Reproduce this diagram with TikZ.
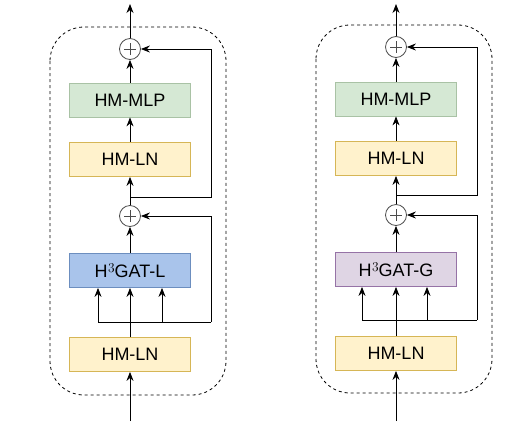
\documentclass[tikz,border=0pt]{standalone}
\usepackage{fontspec}
\setmainfont{Liberation Sans}
\newfontfamily\lmfont{Latin Modern Roman}
\usepackage{tikz}
\usetikzlibrary{arrows.meta, positioning}

\definecolor{mlpfill}{HTML}{D5E8D4}
\definecolor{mlpdraw}{HTML}{A9C2A5}
\definecolor{lnfill}{HTML}{FFF2CC}
\definecolor{lndraw}{HTML}{D6B656}
\definecolor{gatlfill}{HTML}{A9C4EB}
\definecolor{gatldraw}{HTML}{6C8EBF}
\definecolor{gatgfill}{HTML}{E1D5E7}
\definecolor{gatgdraw}{HTML}{9673A6}

\newcommand{\hcube}{H\kern0.5pt\raisebox{4.5pt}{\lmfont\fontsize{13.5}{14}\selectfont 3}}

\begin{document}
\begin{tikzpicture}[
  x=1pt, y=-1pt,
  box/.style={rectangle, thick, minimum width=121pt, minimum height=34pt, inner sep=0pt, text centered, font=\fontsize{18}{21}\selectfont},
  mlp/.style={box, draw=mlpdraw, fill=mlpfill},
  norm/.style={box, draw=lndraw, fill=lnfill},
  gatl/.style={box, draw=gatldraw, fill=gatlfill},
  gatg/.style={box, draw=gatgdraw, fill=gatgdraw!30},
  add/.style={circle, draw=black!70, thick, minimum size=21pt, inner sep=0pt,
    path picture={\draw[black!70, thick] ([xshift=-6pt]path picture bounding box.center) -- ([xshift=6pt]path picture bounding box.center)
      ([yshift=-6pt]path picture bounding box.center) -- ([yshift=6pt]path picture bounding box.center);}},
  arrow/.style={thick, -{Stealth[length=9pt, width=7pt]}},
  line/.style={thick},
  block/.style={draw, thick, dash pattern=on 3pt off 3pt, rounded corners=34pt}
]
\useasboundingbox (0,0) rectangle (521,426);

% Left block
\draw [block] (50,27) rectangle (226,395);
\node (add1L) [add] at (130,49) {};
\node (mlpL) [mlp] at (130,100) {HM-MLP};
\node (ln1L) [norm] at (130,159.5) {HM-LN};
\node (add2L) [add] at (130,216) {};
\node (gatL) [gatl] at (130,270.5) {\hcube GAT-L};
\node (ln2L) [norm] at (130,354.5) {HM-LN};
\coordinate (inL) at (130,421);
\coordinate (outL) at (130,4);
\coordinate (res1L) at (130,197);
\coordinate (res2L) at (130,322);

\draw [arrow] (inL) -- (ln2L.south);
\draw [arrow] (ln2L.north) -- (gatL.south);
\draw [line] (res2L -| 98,0) -- (res2L -| 211,0);
\draw [arrow] (res2L -| 211,0) |- (add2L.east);
\draw [arrow] (res2L -| 98,0) -- (gatL.south -| 98,0);
\draw [arrow] (res2L -| 162,0) -- (gatL.south -| 162,0);
\draw [arrow] (gatL.north) -- (add2L.south);
\draw [arrow] (add2L.north) -- (ln1L.south);
\draw [arrow] (res1L) -- (res1L -| 211,0) |- (add1L.east);
\draw [arrow] (ln1L.north) -- (mlpL.south);
\draw [arrow] (mlpL.north) -- (add1L.south);
\draw [arrow] (add1L.north) -- (outL);

% Right block
\draw [block] (316,25) rectangle (492,393);
\node (add1R) [add] at (396,47) {};
\node (mlpR) [mlp] at (396,99) {HM-MLP};
\node (ln1R) [norm] at (396,158.5) {HM-LN};
\node (add2R) [add] at (396,215) {};
\node (gatR) [gatg] at (396,269.5) {\hcube GAT-G};
\node (ln2R) [norm] at (396,353.5) {HM-LN};
\coordinate (inR) at (396,421);
\coordinate (outR) at (396,4);
\coordinate (res1R) at (396,195);
\coordinate (res2R) at (396,320);

\draw [arrow] (inR) -- (ln2R.south);
\draw [arrow] (ln2R.north) -- (gatR.south);
\draw [line] (res2R -| 362,0) -- (res2R -| 477,0);
\draw [arrow] (res2R -| 477,0) |- (add2R.east);
\draw [arrow] (res2R -| 362,0) -- (gatR.south -| 362,0);
\draw [arrow] (res2R -| 427,0) -- (gatR.south -| 427,0);
\draw [arrow] (gatR.north) -- (add2R.south);
\draw [arrow] (add2R.north) -- (ln1R.south);
\draw [arrow] (res1R) -- (res1R -| 477,0) |- (add1R.east);
\draw [arrow] (ln1R.north) -- (mlpR.south);
\draw [arrow] (mlpR.north) -- (add1R.south);
\draw [arrow] (add1R.north) -- (outR);
\end{tikzpicture}
\end{document}
